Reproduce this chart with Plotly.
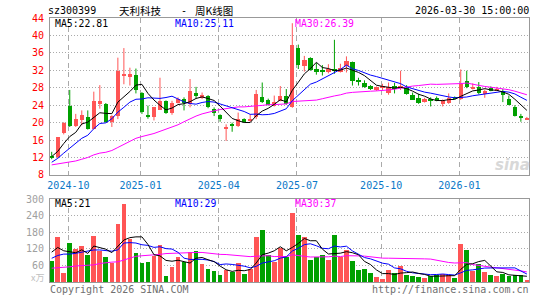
import plotly.graph_objects as go
import pandas as pd

# ---------------- data (weekly candles) ----------------
opens = [12.3, 12.1, 17.7, 23.9, 19.2, 20.5, 21.3, 18.6, 24.2, 24.2,
         20.2, 21.5, 30.9, 30.5, 30.9, 26.9, 21.6, 21.4, 23.0, 25.0,
         22.3, 24.5, 25.4, 24.3, 26.9, 25.6, 26.0, 23.2, 21.8, 18.7,
         19.5, 19.2, 20.8, 20.6, 21.2, 25.8, 25.1, 23.9, 25.0, 26.1,
         23.6, 37.1, 33.0, 34.9, 32.2, 31.95, 31.5, 32.4, 31.7, 33.0,
         33.9, 29.5, 29.2, 28.5, 27.5, 28.0, 26.7, 28.5, 27.9, 27.9,
         26.4, 25.6, 24.7, 25.35, 25.6, 24.2, 24.5, 25.9, 25.4, 29.6,
         27.7, 28.2, 26.6, 27.9, 27.5, 27.2, 25.4, 23.6, 21.35, 20.85]
highs = [13.3, 16.7, 20.1, 27.5, 22.0, 22.8, 22.8, 27.1, 28.6, 24.5,
         21.7, 34.9, 37.1, 32.6, 32.4, 27.0, 23.9, 23.6, 30.3, 25.1,
         25.0, 25.8, 25.8, 30.0, 28.2, 26.9, 26.3, 23.5, 21.9, 19.6,
         20.0, 22.3, 21.0, 21.9, 27.5, 29.2, 25.5, 26.2, 28.4, 27.7,
         42.8, 37.9, 35.3, 35.0, 33.7, 33.2, 33.4, 39.0, 33.5, 35.2,
         34.0, 30.3, 29.7, 28.6, 28.3, 28.9, 29.2, 29.1, 31.9, 28.6,
         26.9, 26.6, 25.7, 25.8, 26.0, 25.3, 26.7, 26.0, 32.2, 31.9,
         29.0, 29.3, 27.6, 28.3, 28.2, 27.7, 26.2, 24.0, 22.0, 21.3]
lows = [11.6, 11.8, 17.3, 19.0, 19.0, 19.4, 18.4, 18.5, 23.2, 20.0,
        19.0, 20.8, 28.8, 28.5, 26.7, 22.0, 20.9, 20.5, 22.9, 22.0,
        21.8, 24.4, 22.8, 23.5, 25.5, 25.4, 23.3, 21.5, 20.2, 15.8,
        17.9, 19.0, 20.0, 20.2, 20.8, 24.5, 23.9, 23.7, 24.9, 24.1,
        23.4, 32.3, 31.7, 31.9, 31.0, 30.8, 31.3, 31.2, 31.5, 31.5,
        28.5, 28.5, 28.0, 27.5, 27.3, 27.5, 26.4, 26.7, 27.5, 26.4,
        25.2, 24.3, 24.6, 23.7, 24.9, 23.7, 24.3, 25.5, 25.2, 27.9,
        27.6, 26.5, 25.7, 27.2, 27.4, 24.7, 24.0, 21.4, 20.2, 20.6]
closes = [12.1, 16.6, 20.0, 19.2, 20.9, 21.8, 18.6, 25.0, 25.0, 20.2,
          21.5, 31.8, 31.1, 31.1, 27.5, 22.4, 21.4, 23.5, 25.0, 22.3,
          24.5, 25.4, 24.5, 27.3, 26.0, 26.3, 23.5, 22.3, 20.8, 18.8,
          19.4, 20.9, 20.2, 20.8, 26.6, 24.7, 24.1, 24.7, 26.1, 24.3,
          37.9, 33.3, 34.3, 32.1, 31.6, 31.85, 32.2, 31.9, 32.6, 34.1,
          29.6, 29.4, 28.2, 27.6, 28.1, 28.2, 28.1, 27.6, 28.5, 26.6,
          25.3, 24.5, 25.4, 25.25, 24.95, 25.1, 25.7, 25.6, 28.8, 28.1,
          28.2, 26.7, 27.2, 27.3, 27.65, 26.3, 24.05, 21.5, 21.25, 20.95]
volumes = [77, 162, 32, 140, 119, 130, 96, 166, 112, 90,
           68, 209, 281, 155, 104, 68, 72, 95, 134, 22,
           53, 90, 71, 107, 110, 66, 48, 38, 26, 44,
           36, 68, 30, 48, 162, 187, 96, 72, 121, 89,
           248, 168, 162, 80, 89, 96, 80, 168, 89, 116,
           77, 44, 47, 32, 18, 11, 44, 32, 56, 26,
           23, 18, 14, 23, 24, 29, 24, 14, 137, 116,
           40, 63, 35, 26, 20, 29, 20, 26, 24, 5]

# moving-average values at the start of the chart (window reaches before the first candle)
ma5_lead = [12.2, 13.4, 15.2, 16.8]
ma10_lead = [10.9, 11.8, 13.0, 14.1, 15.2, 16.4, 17.1, 18.6, 19.8]
ma30_lead = [10.3, 10.5, 10.7, 10.9, 11.2, 11.6, 12.0, 12.6, 13.0, 13.2,
             13.6, 14.3, 15.0, 15.8, 16.4, 16.8, 17.1, 17.5, 18.0, 18.5,
             19.0, 19.5, 20.2, 20.9, 21.5, 22.0, 22.4, 22.7, 23.0]
vma5_lead = [108, 125, 113, 110]
vma10_lead = [86, 96, 101, 101, 104, 108, 110, 116, 116]
vma30_lead = [50, 51, 52, 55, 58, 60, 60, 62, 67, 70,
              72, 73, 80, 88, 93, 95, 96, 98, 100, 103,
              104, 106, 107, 107, 107, 107, 104, 102, 100]

month_start_idx = [3, 15, 28, 41, 55, 68]
month_labels = ["2024-10", "2025-01", "2025-04", "2025-07", "2025-10", "2026-01"]
price_ticks = [8, 12, 16, 20, 24, 28, 32, 36, 40, 44]
vol_ticks = [60, 120, 180, 240, 300]

code = "sz300399"
title_name = "天利科技"
title_sep = "-"
title_kind = "周K线图"
stamp = "2026-03-30 15:00:00"

# ---------------- helpers ----------------
W, H = 545, 300
L, R, T, B = 50, 16, 18, 15
PW, PH = W - L - R, H - T - B


def pxx(x):
    return (x - L) / PW


def pyy(y):
    return (H - B - y) / PH


def ma(values, n, lead):
    s = pd.Series(values, dtype=float).rolling(n).mean().tolist()
    return list(lead) + s[len(lead):]


RED = "#ff5555"
GREEN = "#00a000"
MONO = "DejaVu Sans Mono"
CJK = "Noto Sans CJK SC"

n = len(closes)
idx = list(range(n))
ma5 = ma(closes, 5, ma5_lead)
ma10 = ma(closes, 10, ma10_lead)
ma30 = ma(closes, 30, ma30_lead)
vma5 = ma(volumes, 5, vma5_lead)
vma10 = ma(volumes, 10, vma10_lead)
vma30 = ma(volumes, 30, vma30_lead)

fig = go.Figure()

# wicks
for up, col in ((True, RED), (False, GREEN)):
    wx, wy = [], []
    for i in idx:
        if (closes[i] >= opens[i]) == up:
            wx += [i, i, None]
            wy += [lows[i], highs[i], None]
    fig.add_trace(go.Scatter(x=wx, y=wy, mode="lines", line=dict(color=col, width=1),
                             hoverinfo="skip", xaxis="x", yaxis="y"))

# bodies
MINH = 0.24
for up, col in ((True, RED), (False, GREEN)):
    bx, bb, bh = [], [], []
    for i in idx:
        if (closes[i] >= opens[i]) == up:
            lo, hi = min(opens[i], closes[i]), max(opens[i], closes[i])
            h = hi - lo
            if h < MINH:
                mid = (hi + lo) / 2
                lo, h = mid - MINH / 2, MINH
            bx.append(i)
            bb.append(lo)
            bh.append(h)
    fig.add_trace(go.Bar(x=bx, y=bh, base=bb, width=0.72, marker=dict(color=col, line=dict(width=0)),
                         hoverinfo="skip", xaxis="x", yaxis="y"))

# volume bars
vcols = [RED if closes[i] >= opens[i] else GREEN for i in idx]
fig.add_trace(go.Bar(x=idx, y=volumes, width=0.78, marker=dict(color=vcols, line=dict(width=0)),
                     hoverinfo="skip", xaxis="x2", yaxis="y2"))

# moving averages
for series, col, ax, ay in ((ma30, "#ff00ff", "x", "y"), (ma10, "#0000ff", "x", "y"), (ma5, "#000000", "x", "y"),
                            (vma30, "#ff00ff", "x2", "y2"), (vma10, "#0000ff", "x2", "y2"), (vma5, "#000000", "x2", "y2")):
    fig.add_trace(go.Scatter(x=idx, y=series, mode="lines", line=dict(color=col, width=1),
                             hoverinfo="skip", xaxis=ax, yaxis=ay))

xr = [-0.283, -0.283 + PW / 6.015]
grid_x = [i - 0.22 for i in month_start_idx]
xcommon = dict(range=xr, showline=True, mirror=True, linecolor="#999999", linewidth=1,
               showgrid=True, gridcolor="#aaaaaa", gridwidth=1, griddash="5px,4px",
               tickvals=grid_x, ticks="", zeroline=False, fixedrange=True)

fig.update_layout(
    width=W, height=H,
    margin=dict(l=L, r=R, t=T, b=B, pad=0),
    paper_bgcolor="white", plot_bgcolor="white",
    showlegend=False, barmode="overlay", bargap=0,
    hovermode=False,
    xaxis=dict(**xcommon, anchor="y", ticktext=month_labels,
               tickfont=dict(family=MONO, size=10, color="#0a78c8"), ticklabelstandoff=1),
    xaxis2=dict(**xcommon, anchor="y2", showticklabels=False, matches="x"),
    yaxis=dict(domain=[pyy(176.7), 1.0], range=[8, 44], tickvals=price_ticks,
               showline=True, mirror=True, linecolor="#999999", linewidth=1,
               showgrid=True, gridcolor="#aaaaaa", gridwidth=1, griddash="1px,2px",
               zeroline=False, ticks="", tickfont=dict(family=MONO, size=10, color="#ff0000"),
               ticklabelstandoff=3, fixedrange=True),
    yaxis2=dict(domain=[0.0, pyy(201.2)], range=[0, 300], tickvals=vol_ticks,
                showline=True, mirror=True, linecolor="#999999", linewidth=1,
                showgrid=True, gridcolor="#aaaaaa", gridwidth=1, griddash="1px,2px",
                zeroline=False, ticks="", tickfont=dict(family=MONO, size=10, color="#a0a0a0"),
                ticklabelstandoff=3, fixedrange=True),
)


def note(text, x, y, color="#000000", size=10, family=MONO, xanchor="left", **kw):
    fig.add_annotation(text=text, x=pxx(x), y=pyy(y), xref="paper", yref="paper",
                       xanchor=xanchor, yanchor="middle", showarrow=False,
                       font=dict(family=family, size=size, color=color), borderpad=0, **kw)


note(code, 47, 10.5)
note(title_name, 140.5, 10.5, size=10.5, family=CJK, xanchor="center")
note(title_sep, 180, 10.5, size=10)
note(title_kind, 213.5, 10.5, size=10.5, family=CJK, xanchor="center")
note(stamp, 529.5, 10.5, xanchor="right")

note(f"MA5:{ma5[-1]:.2f}", 54, 24, size=9.8)
note(f"MA10:{ma10[-1]:.2f}", 174, 24, color="#0000ff", size=9.8)
note(f"MA30:{ma30[-1]:.2f}", 294, 24, color="#ff00ff", size=9.8)

note(f"MA5:{vma5[-1]:.0f}", 54, 206, size=9.8)
note(f"MA10:{vma10[-1]:.0f}", 174, 206, color="#0000ff", size=9.8)
note(f"MA30:{vma30[-1]:.0f}", 294, 206, color="#ff00ff", size=9.8)

note("x万", 45, 280.5, color="#c0c0c0", size=9, family=CJK, xanchor="right")
note("Copyright 2026 SINA.COM", 49, 293, color="#707070")
note("http://finance.sina.com.cn", 529.5, 293, color="#707070", xanchor="right")
note("<i><b>sina</b></i>", 512, 167, color="#d8d8d8", size=15, family="DejaVu Sans", xanchor="center")

fig.write_html("out.html")
